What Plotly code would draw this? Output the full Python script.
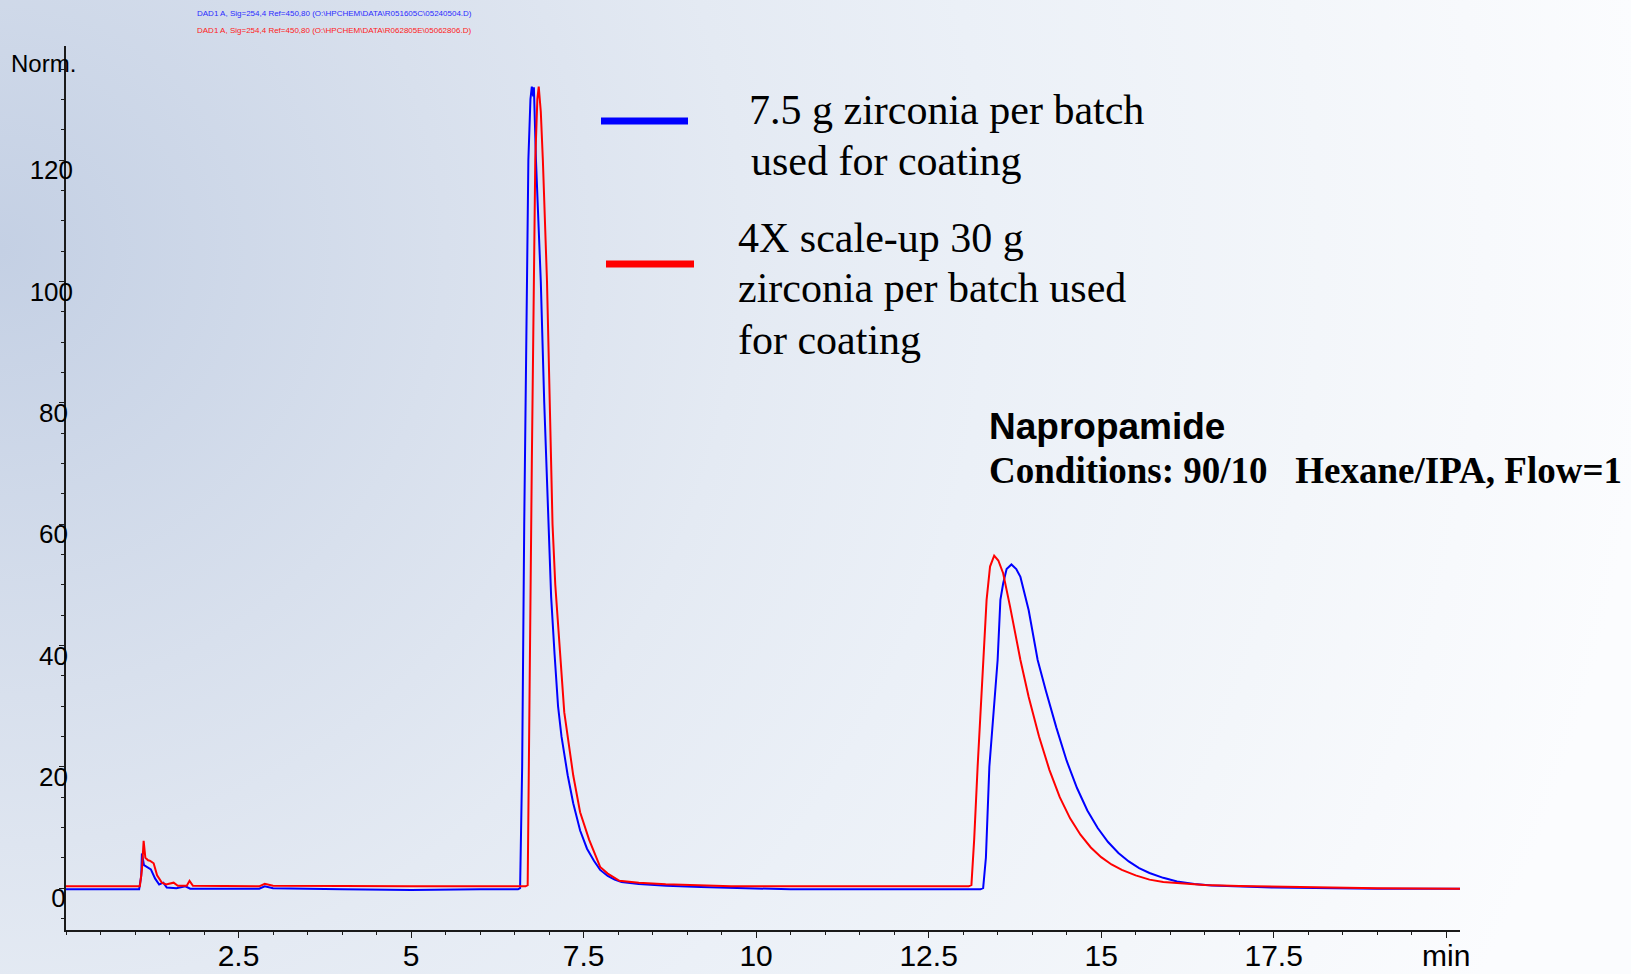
import base64
import plotly.graph_objects as go

# ---------------- data ----------------
blue_t = [0.00, 1.06, 1.09, 1.10, 1.13, 1.18, 1.23, 1.29, 1.35, 1.41, 1.46, 1.60, 1.73, 1.80,
          2.80, 2.88, 3.00, 4.00, 5.00, 6.00, 6.55, 6.58, 6.61, 6.64, 6.67, 6.70, 6.73, 6.75,
          6.77, 6.78, 6.81, 6.85, 6.88, 6.93, 6.96, 6.99, 7.03, 7.08, 7.13, 7.18, 7.27, 7.35,
          7.45, 7.55, 7.65, 7.74, 7.85, 7.95, 8.05, 8.30, 8.70, 9.20, 9.70, 10.5, 11.5, 12.5,
          13.25, 13.29, 13.33, 13.38, 13.45, 13.50, 13.54, 13.58, 13.63, 13.70, 13.77, 13.83,
          13.95, 14.08, 14.20, 14.35, 14.50, 14.65, 14.80, 14.95, 15.10, 15.25, 15.40, 15.55,
          15.70, 15.90, 16.10, 16.35, 16.60, 17.00, 17.50, 19.00, 20.20]
blue_v = [-0.2, -0.2, 2.0, 5.7, 3.8, 3.5, 3.1, 1.6, 0.6, 0.9, 0.1, 0.0, 0.3, -0.1,
          -0.1, 0.3, 0.0, -0.2, -0.3, -0.2, -0.2, 0.0, 20, 60, 95, 120, 130, 132.1,
          130.5, 132.0, 120, 108, 100, 80, 70, 58.4, 48, 38.5, 30, 25, 18.6, 14,
          9.5, 6.5, 4.5, 3.0, 2.0, 1.4, 1.0, 0.7, 0.4, 0.2, 0.0, -0.2, -0.2, -0.2,
          -0.2, 0.0, 5, 20, 30, 37.6, 47.5, 50.2, 52.6, 53.35, 52.6, 51.3,
          45.8, 37.6, 32.5, 26.5, 21.0, 16.5, 12.8, 9.9, 7.6, 5.8, 4.4, 3.3,
          2.5, 1.7, 1.1, 0.7, 0.45, 0.25, 0.1, -0.1, -0.1]

red_t = [0.00, 1.07, 1.10, 1.125, 1.15, 1.19, 1.22, 1.27, 1.32, 1.39, 1.45, 1.56, 1.62, 1.75,
         1.79, 1.84, 2.80, 2.88, 3.00, 4.00, 5.00, 6.00, 6.66, 6.69, 6.72, 6.75, 6.78, 6.80,
         6.83, 6.85, 6.88, 6.91, 6.97, 7.01, 7.05, 7.09, 7.15, 7.22, 7.35, 7.45, 7.58, 7.74,
         7.85, 8.02, 8.30, 8.69, 9.64, 11.0, 12.0, 13.08, 13.12, 13.16, 13.21, 13.29, 13.34,
         13.39, 13.45, 13.51, 13.58, 13.68, 13.83, 13.95, 14.10, 14.25, 14.40, 14.55, 14.70,
         14.85, 15.00, 15.15, 15.30, 15.50, 15.70, 15.90, 16.20, 16.50, 17.00, 17.50, 19.00, 20.20]
red_v = [0.3, 0.3, 3.0, 7.8, 5.0, 4.6, 4.5, 4.1, 2.1, 0.9, 0.6, 0.9, 0.4, 0.4,
         1.2, 0.4, 0.3, 0.7, 0.4, 0.3, 0.3, 0.3, 0.3, 0.5, 30, 70, 100, 120,
         130, 132.1, 128, 120, 100, 80, 60, 50, 40, 29, 18.6, 12.5, 8.0, 3.5,
         2.4, 1.2, 0.9, 0.65, 0.3, 0.3, 0.3, 0.3, 0.5, 8, 20, 37.6, 47.5,
         53, 54.8, 54, 51.9, 46.4, 37.6, 31.5, 25.0, 19.5, 15.0, 11.5, 8.8,
         6.7, 5.1, 3.9, 3.0, 2.1, 1.4, 1.0, 0.7, 0.5, 0.35, 0.25, 0.0, -0.1]

x_tickvals = [2.5, 5, 7.5, 10, 12.5, 15, 17.5, 20]
x_ticktext = ["2.5", "5", "7.5", "10", "12.5", "15", "17.5", "min"]
y_tickvals = [0, 20, 40, 60, 80, 100, 120]
# trailing spaces keep the short labels roughly centred like the original
y_ticktext = ["0\u00a0", "20\u2009", "40\u2009", "60\u2009", "80\u2009", "100", "120"]

header_blue = "DAD1 A, Sig=254,4 Ref=450,80 (O:\\HPCHEM\\DATA\\R051605C\\05240504.D)"
header_red = "DAD1 A, Sig=254,4 Ref=450,80 (O:\\HPCHEM\\DATA\\R062805E\\05062806.D)"
legend_blue_lines = ["7.5 g zirconia per batch", "used for coating"]
legend_red_lines = ["4X scale-up 30 g", "zirconia per batch used", "for coating"]
title_text = "Napropamide"
cond_text = "Conditions: 90/10\u00a0\u00a0\u00a0Hexane/IPA, Flow=1"

# ---------------- layout geometry ----------------
W, H = 1631, 974
L, R, T, B = 66, 171, 46, 44
PW, PH = W - L - R, H - T - B


def px(x):
    return (x - L) / PW


def py(y):
    return (H - B - y) / PH


# background gradient
svg = (
    '<svg xmlns="http://www.w3.org/2000/svg" width="1631" height="974" '
    'viewBox="0 0 1631 974" preserveAspectRatio="none">'
    '<defs><radialGradient id="g" gradientUnits="userSpaceOnUse" cx="0" cy="250" r="1650">'
    '<stop offset="0" stop-color="#c4d0e4"/>'
    '<stop offset="0.27" stop-color="#d8e0ed"/>'
    '<stop offset="0.45" stop-color="#e4eaf3"/>'
    '<stop offset="0.6" stop-color="#ebf0f7"/>'
    '<stop offset="0.8" stop-color="#f3f6fa"/>'
    '<stop offset="1" stop-color="#fbfcfe"/>'
    '</radialGradient></defs>'
    '<rect x="0" y="0" width="1631" height="974" fill="url(#g)"/></svg>'
)
bg_src = "data:image/svg+xml;base64," + base64.b64encode(svg.encode()).decode()

fig = go.Figure()
fig.add_trace(go.Scatter(x=blue_t, y=blue_v, mode="lines",
                         line=dict(color="#0000ff", width=2), showlegend=False))
fig.add_trace(go.Scatter(x=red_t, y=red_v, mode="lines",
                         line=dict(color="#ff0000", width=2), showlegend=False))

ann = []
ann.append(dict(x=px(195), y=py(14), text=header_blue, font=dict(size=8, color="#2b2bff",
                family="Liberation Sans, Arial"), xanchor="left", yanchor="middle"))
ann.append(dict(x=px(195), y=py(30), text=header_red, font=dict(size=8, color="#ff2020",
                family="Liberation Sans, Arial"), xanchor="left", yanchor="middle"))
ann.append(dict(x=px(9), y=py(63), text="Norm.", font=dict(size=24, color="black",
                family="Liberation Sans, Arial"), xanchor="left", yanchor="middle"))
serif = "Liberation Serif, Times New Roman"
for txt, (lx, ly) in zip(legend_blue_lines, [(747, 110), (749, 161)]):
    ann.append(dict(x=px(lx), y=py(ly), text=txt, font=dict(size=42, color="black", family=serif),
                    xanchor="left", yanchor="middle"))
for txt, (lx, ly) in zip(legend_red_lines, [(736, 238), (736, 288), (736, 340)]):
    ann.append(dict(x=px(lx), y=py(ly), text=txt, font=dict(size=42, color="black", family=serif),
                    xanchor="left", yanchor="middle"))
ann.append(dict(x=px(987), y=py(426), text="<b>" + title_text + "</b>",
                font=dict(size=37, color="black", family="Liberation Sans, Arial"),
                xanchor="left", yanchor="middle"))
ann.append(dict(x=px(987), y=py(471), text="<b>" + cond_text + "</b>",
                font=dict(size=37, color="black", family=serif),
                xanchor="left", yanchor="middle"))
for a in ann:
    a.update(xref="paper", yref="paper", showarrow=False)

shapes = [
    dict(type="line", xref="paper", yref="paper", x0=px(601), x1=px(688), y0=py(121), y1=py(121),
         line=dict(color="#0000ff", width=7)),
    dict(type="line", xref="paper", yref="paper", x0=px(606), x1=px(694), y0=py(264), y1=py(264),
         line=dict(color="#ff0000", width=7)),
]

fig.update_layout(
    width=W, height=H,
    margin=dict(l=L, r=R, t=T, b=B, pad=0, autoexpand=False),
    paper_bgcolor="#eef2f8",
    plot_bgcolor="rgba(0,0,0,0)",
    showlegend=False,
    annotations=ann,
    shapes=shapes,
    images=[dict(source=bg_src, xref="paper", yref="paper", x=-L / PW, y=1 + T / PH,
                 sizex=W / PW, sizey=H / PH, sizing="stretch", layer="below",
                 xanchor="left", yanchor="top")],
    xaxis=dict(range=[0, 20.2], showgrid=False, zeroline=False, showline=True, automargin=False,
               linecolor="#1a1a1a", linewidth=1.5, ticks="outside", ticklen=6, tickwidth=1,
               tickcolor="#1a1a1a", tickmode="array", tickvals=x_tickvals, ticktext=x_ticktext,
               tickfont=dict(size=30, color="black", family="Liberation Sans, Arial"),
               minor=dict(ticks="outside", ticklen=3, dtick=0.5, tick0=0, tickcolor="#1a1a1a"),
               ticklabelstandoff=-8),
    yaxis=dict(range=[-6.9, 138.8], showgrid=False, zeroline=False, showline=True, automargin=False,
               linecolor="#1a1a1a", linewidth=1.5, ticks="outside", ticklen=5, tickwidth=1,
               tickcolor="#1a1a1a", tickmode="array", tickvals=y_tickvals, ticktext=y_ticktext,
               tickfont=dict(size=26, color="black", family="Liberation Sans, Arial"),
               minor=dict(ticks="outside", ticklen=3, dtick=5, tick0=0, tickcolor="#1a1a1a"),
               ticklabelshift=10, ticklabelstandoff=-19),
)

fig.write_html("out.html")
